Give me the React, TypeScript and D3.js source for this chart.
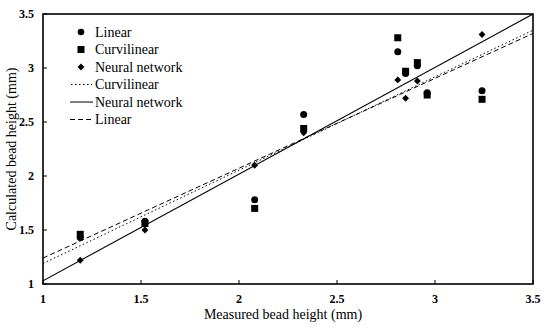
import * as d3 from "d3";

// measured bead height (mm), one entry per specimen
const measured = [1.19, 1.52, 2.08, 2.33, 2.81, 2.85, 2.91, 2.96, 3.24];
const linearPred = [1.43, 1.58, 1.78, 2.57, 3.15, 2.95, 3.02, 2.77, 2.79];
const curvPred = [1.46, 1.56, 1.70, 2.44, 3.28, 2.97, 3.05, 2.75, 2.71];
const neuralPred = [1.22, 1.50, 2.10, 2.40, 2.89, 2.72, 2.88, 2.76, 3.31];

// fitted lines: value at x = 1 and x = 3.5
const fitX = [1, 3.5];
const fitNeural = [1.03, 3.5];
const fitLinear = [1.24, 3.32];
const fitCurv = [1.19, 3.35];

const ticks = [1, 1.5, 2, 2.5, 3, 3.5];

export default function App() {
  const width = 544, height = 329;
  const x = d3.scaleLinear().domain([1, 3.5]).range([43, 533]);
  const y = d3.scaleLinear().domain([1, 3.5]).range([284, 14]);
  const font = { fontFamily: "'Liberation Serif', serif" };

  const line = d3.line<number>().x((d, i) => x(fitX[i])).y((d) => y(d));
  const diamond = d3.symbol().type(d3.symbolDiamond2).size(30)()!;

  const legend = [
    { label: "Linear", kind: "circle" },
    { label: "Curvilinear", kind: "square" },
    { label: "Neural network", kind: "diamond" },
    { label: "Curvilinear", kind: "dotted" },
    { label: "Neural network", kind: "solid" },
    { label: "Linear", kind: "dashed" },
  ];

  return (
    <svg width={width} height={height} style={{ position: "absolute", left: 0, top: 0 }}>
      <rect width={width} height={height} fill="#fff" />
      <defs>
        <clipPath id="plot">
          <rect x={x(1)} y={y(3.5)} width={x(3.5) - x(1)} height={y(1) - y(3.5)} />
        </clipPath>
      </defs>
      {/* frame */}
      <rect x={x(1)} y={y(3.5)} width={x(3.5) - x(1)} height={y(1) - y(3.5)}
        fill="none" stroke="#000" strokeWidth={1.6} />
      {/* ticks */}
      {ticks.map((t) => (
        <g key={"t" + t}>
          <line x1={x(1)} x2={x(1) + 4} y1={y(t)} y2={y(t)} stroke="#000" />
          <line x1={x(t)} x2={x(t)} y1={y(1)} y2={y(1) - 4} stroke="#000" />
          <text x={x(1) - 9} y={y(t) + 4} textAnchor="end" style={font} fontSize={12} fontWeight="bold">{t}</text>
          <text x={x(t)} y={303} textAnchor="middle" style={font} fontSize={12} fontWeight="bold">{t}</text>
        </g>
      ))}
      <text x={283} y={319} textAnchor="middle" style={font} fontSize={14}>Measured bead height (mm)</text>
      <text transform={`translate(16,${y(2.25)}) rotate(-90)`} textAnchor="middle" style={font} fontSize={14}>Calculated bead height (mm)</text>

      {/* fitted lines */}
      <g clipPath="url(#plot)" fill="none" stroke="#000">
        <path d={line(fitCurv)!} strokeWidth={1} strokeDasharray="1.5,2.5" />
        <path d={line(fitLinear)!} strokeWidth={1} strokeDasharray="5,3" />
        <path d={line(fitNeural)!} strokeWidth={1.1} />
      </g>

      {/* points */}
      {measured.map((m, i) => (
        <g key={"p" + i}>
          <rect x={x(m) - 3.5} y={y(curvPred[i]) - 3.5} width={7} height={7} fill="#000" />
          <circle cx={x(m)} cy={y(linearPred[i])} r={3.5} fill="#000" />
          <path d={diamond} transform={`translate(${x(m)},${y(neuralPred[i])})`} fill="#000" />
        </g>
      ))}

      {/* legend */}
      {legend.map((l, i) => {
        const ly = 32 + i * 17.5;
        return (
          <g key={"l" + i}>
            {l.kind === "circle" && <circle cx={81} cy={ly} r={3.3} fill="#000" />}
            {l.kind === "square" && <rect x={77.5} y={ly - 3.5} width={7} height={7} fill="#000" />}
            {l.kind === "diamond" && <path d={diamond} transform={`translate(81,${ly})`} fill="#000" />}
            {l.kind === "dotted" && <line x1={71} x2={92} y1={ly} y2={ly} stroke="#000" strokeDasharray="1.5,2.5" />}
            {l.kind === "solid" && <line x1={70} x2={93} y1={ly} y2={ly} stroke="#000" />}
            {l.kind === "dashed" && <line x1={70} x2={93} y1={ly} y2={ly} stroke="#000" strokeDasharray="5,3" />}
            <text x={95} y={ly + 4.5} style={font} fontSize={14}>{l.label}</text>
          </g>
        );
      })}
    </svg>
  );
}
